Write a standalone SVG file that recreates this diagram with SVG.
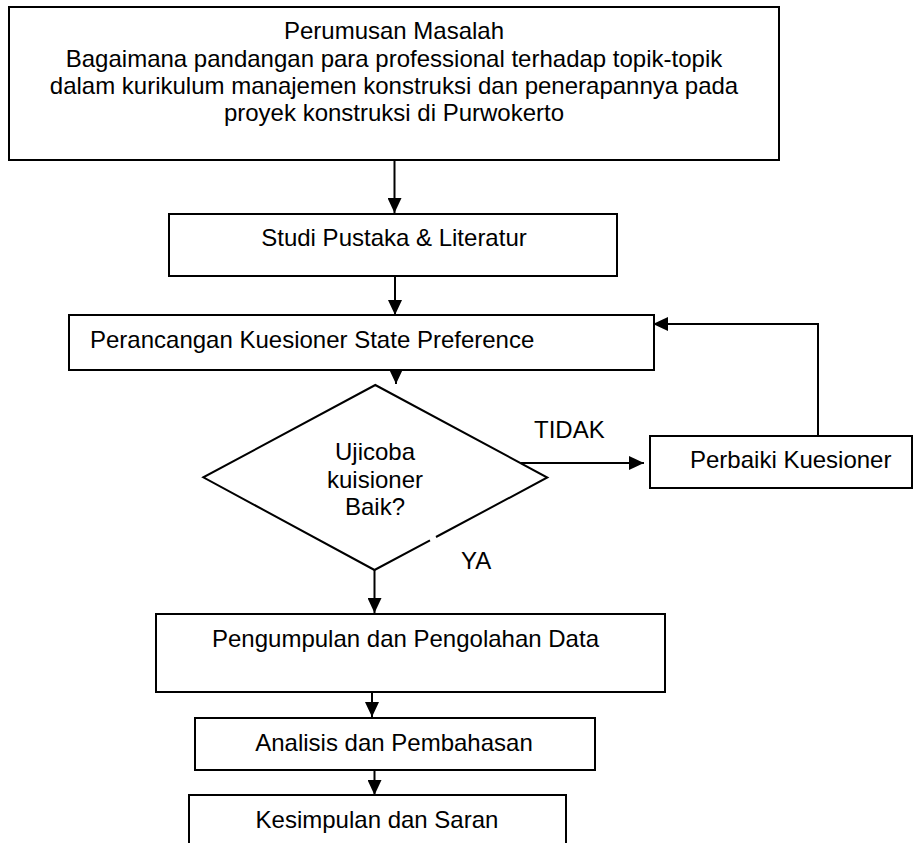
<svg xmlns="http://www.w3.org/2000/svg" width="918" height="843" viewBox="0 0 918 843">
<style>
.box{fill:#fff;stroke:#000;stroke-width:2}
.ln{fill:none;stroke:#000;stroke-width:2}
.t{font-family:"Liberation Sans",Arial,sans-serif;font-size:24px;fill:#000}
.c{text-anchor:middle}
</style>
<defs>
<marker id="ah" viewBox="0 0 15 14" refX="15" refY="7" markerWidth="15" markerHeight="14" markerUnits="userSpaceOnUse" orient="auto">
<path d="M0,0 L15,7 L0,14 Z" fill="#000"/>
</marker>
</defs>
<rect width="918" height="843" fill="#fff"/>
<g id="connectors">
<line class="ln" x1="394.5" y1="160" x2="394.5" y2="213" marker-end="url(#ah)"/>
<line class="ln" x1="395" y1="276" x2="395" y2="315" marker-end="url(#ah)"/>
<line class="ln" x1="396" y1="370" x2="396" y2="384" marker-end="url(#ah)"/>
<line class="ln" x1="521" y1="463" x2="644" y2="463" marker-end="url(#ah)"/>
<polyline class="ln" points="818,436 818,324 653,324" marker-end="url(#ah)"/>
<line class="ln" x1="374.5" y1="570" x2="374.5" y2="613" marker-end="url(#ah)"/>
<line class="ln" x1="372" y1="692" x2="372" y2="717" marker-end="url(#ah)"/>
<line class="ln" x1="374.5" y1="770" x2="374.5" y2="795" marker-end="url(#ah)"/>
<text class="t" x="534" y="438">TIDAK</text>
<text class="t" x="461" y="569">YA</text>
</g>
<g id="n1">
<rect class="box" x="9" y="7" width="770" height="153"/>
<text class="t c" x="394" y="39">Perumusan Masalah</text>
<text class="t c" x="394" y="66.5">Bagaimana pandangan para professional terhadap topik-topik</text>
<text class="t c" x="394" y="94">dalam kurikulum manajemen konstruksi dan penerapannya pada</text>
<text class="t c" x="394" y="121">proyek konstruksi di Purwokerto</text>
</g>
<g id="n2">
<rect class="box" x="169" y="214" width="448" height="62"/>
<text class="t c" x="394" y="246">Studi Pustaka &amp; Literatur</text>
</g>
<g id="n3">
<rect class="box" x="69" y="315" width="585" height="55"/>
<text class="t" x="90" y="347.7">Perancangan Kuesioner State Preference</text>
</g>
<g id="n4">
<path class="ln" d="M436,537 L547.3,477.5 L375.3,385 L203.3,477.3 L374.5,570 L430,540.3"/>
<text class="t c" x="375" y="460">Ujicoba</text>
<text class="t c" x="375" y="487.5">kuisioner</text>
<text class="t c" x="375" y="514.5">Baik?</text>
</g>
<g id="n5">
<rect class="box" x="650" y="436" width="262" height="52"/>
<text class="t" x="690" y="468">Perbaiki Kuesioner</text>
</g>
<g id="n6">
<rect class="box" x="156" y="614" width="509" height="78"/>
<text class="t" x="212" y="647.3">Pengumpulan dan Pengolahan Data</text>
</g>
<g id="n7">
<rect class="box" x="195" y="718" width="400" height="52"/>
<text class="t c" x="394" y="750.7">Analisis dan Pembahasan</text>
</g>
<g id="n8">
<rect class="box" x="189" y="795" width="377" height="60"/>
<text class="t c" x="377" y="828.3">Kesimpulan dan Saran</text>
</g>
</svg>
